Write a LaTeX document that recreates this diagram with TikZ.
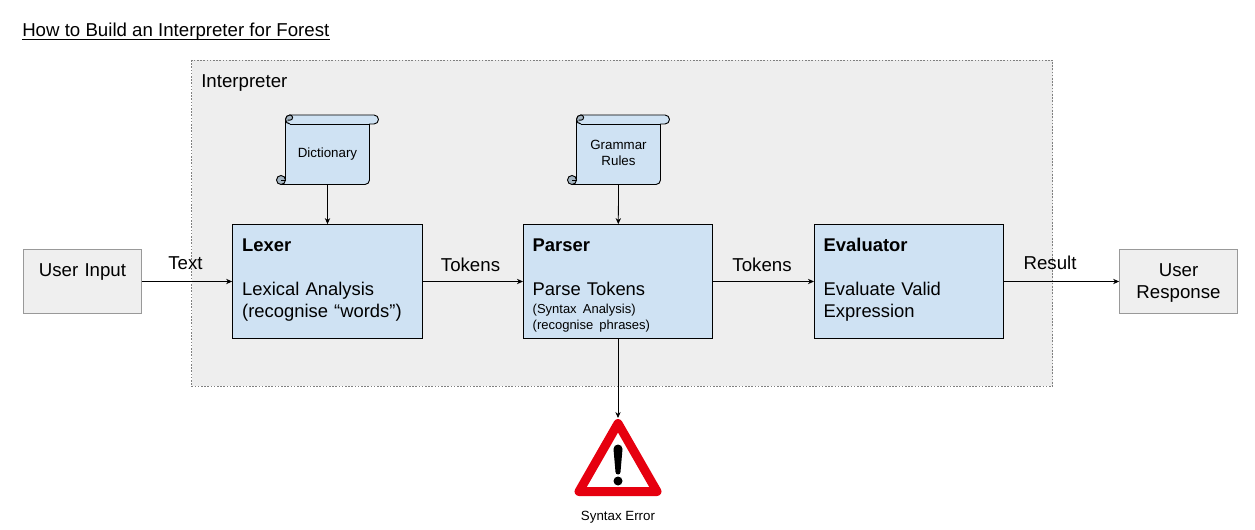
\documentclass[tikz,border=0pt]{standalone}
\usepackage{fontspec}
\setmainfont{Liberation Sans}
\usetikzlibrary{arrows.meta,calc}
\definecolor{BoxClr}{HTML}{CFE2F3}
\definecolor{OuterClr}{HTML}{EFEFEF}
\definecolor{AreaClr}{HTML}{EEEEEE}
\definecolor{RimClr}{HTML}{999999}
\definecolor{CurlClr}{HTML}{A5B5C2}
\definecolor{WarnClr}{HTML}{E6000F}
\tikzset{
  stagebox/.style={draw=black,fill=BoxClr,line width=.6pt,inner sep=0pt,minimum width=142pt,text width=128pt,
    text height=19.9pt,text depth=65.6pt,align=left,font=\fontsize{13.8}{16.5}\selectfont},
  outerbox/.style={draw=RimClr,fill=OuterClr,line width=.6pt,inner sep=0pt,text width=88.5pt,
    text height=20.25pt,text depth=27.75pt,align=center,font=\fontsize{14}{16.5}\selectfont},
  flowtext/.style={inner sep=0pt,font=\fontsize{14}{16.5}\selectfont},
  smalltext/.style={inner sep=0pt,text depth=0pt,align=center,font=\fontsize{10}{12}\selectfont},
  flow/.style={-{Stealth[length=4.5pt,width=4pt]},line width=.6pt}
}
% One scroll, its name gives the node in the middle of the sheet.
\newcommand{\scrollsheet}[3]{
  \begin{scope}[shift={(#1,0)}]
    \draw[fill=BoxClr,line width=.7pt,line join=round]
      (285.5,119.5) -- (285.5,180) -- (281,184.5) -- (365,184.5)
      arc[start angle=90,end angle=0,radius=4.5] -- (369.5,124) -- (374,124)
      arc[start angle=90,end angle=-90,radius=4.5] -- (290,115)
      arc[start angle=-90,end angle=-180,radius=4.5] -- cycle;
    \draw[fill=CurlClr,line width=.7pt] (281,180) circle[radius=4.5];
    \draw[line width=.7pt] (281,180) -- (285.5,180);
    \draw[fill=CurlClr,line width=.7pt] (290,124) arc[start angle=90,end angle=270,radius=4.5]
      arc[start angle=-90,end angle=90,radius=2.6] -- (287.5,120.2);
    \draw[line width=.7pt] (290,124) -- (369.5,124);
    \node[smalltext] (#2) at (327.5,152.8) {#3};
    \coordinate (#2foot) at (327.5,184.5);
  \end{scope}
}

\begin{document}
\begin{tikzpicture}[x=.75pt,y=-.75pt]
\useasboundingbox (0,0) rectangle (1255,530);

\node[anchor=base west,inner sep=0pt,text depth=2.25pt,font=\fontsize{14}{16.5}\selectfont] (title) at (22,36.5) {How to Build an Interpreter for Forest};
\draw[line width=.7pt] (title.south west) -- (title.south east);

% The shaded area behind the three stages.
\draw[fill=AreaClr,draw=black!50,line width=.6pt,dash pattern=on 1.2pt off 1.2pt] (191.5,60) rectangle (1052.5,386.5);
\node[flowtext,anchor=west] (area) at (201,83) {Interpreter};

% The boxes on the main line.
\node[outerbox] (input) at (82.5,281.5) {User Input};
\node[stagebox,minimum width=142.5pt] (lexer) at (327.5,281.5) {\textbf{Lexer}\\[16.5pt]Lexical Analysis\\(recognise “words”)};
\node[stagebox] (parser) at (618,281.5) {\textbf{Parser}\\[16.5pt]Parse Tokens\par{\fontsize{9.75}{13.5}\selectfont (Syntax Analysis)\par}{\fontsize{9.75}{12}\selectfont (recognise phrases)\par}};
\node[stagebox] (evaluator) at (909,281.5) {\textbf{Evaluator}\\[16.5pt]Evaluate Valid\\Expression};
\node[outerbox] (response) at (1178.5,281.5) {User\\Response};

% Both scrolls.
\scrollsheet{0}{dictionary}{Dictionary}
\scrollsheet{291}{grammar}{Grammar\\Rules}

% The warning sign.
\coordinate (warntop) at (618,418);
\draw[fill=white,draw=WarnClr,line width=6.75pt,line join=round] (618,423.5) -- (579,491.5) -- (657,491.5) -- cycle;
\fill[black] (613.5,449) arc[start angle=180,end angle=360,radius=4.5] -- (620.5,472) arc[start angle=0,end angle=180,radius=2.5] -- cycle;
\fill[black] (618,481) circle[radius=4.5];
\node[smalltext] (error) at (618,515.5) {Syntax Error};

% Connectors.
\draw[flow] (input) -- (lexer);
\draw[flow] (lexer) -- (parser);
\draw[flow] (parser) -- (evaluator);
\draw[flow] (evaluator) -- (response);
\draw[flow] (dictionaryfoot) -- (lexer);
\draw[flow] (grammarfoot) -- (parser);
\draw[flow] (parser) -- (warntop);

\node[flowtext] (text) at (185.5,263) {Text};
\node[flowtext] (tokensa) at (470.5,265) {Tokens};
\node[flowtext] (tokensb) at (762,265) {Tokens};
\node[flowtext] (result) at (1050,263) {Result};

\end{tikzpicture}
\end{document}
